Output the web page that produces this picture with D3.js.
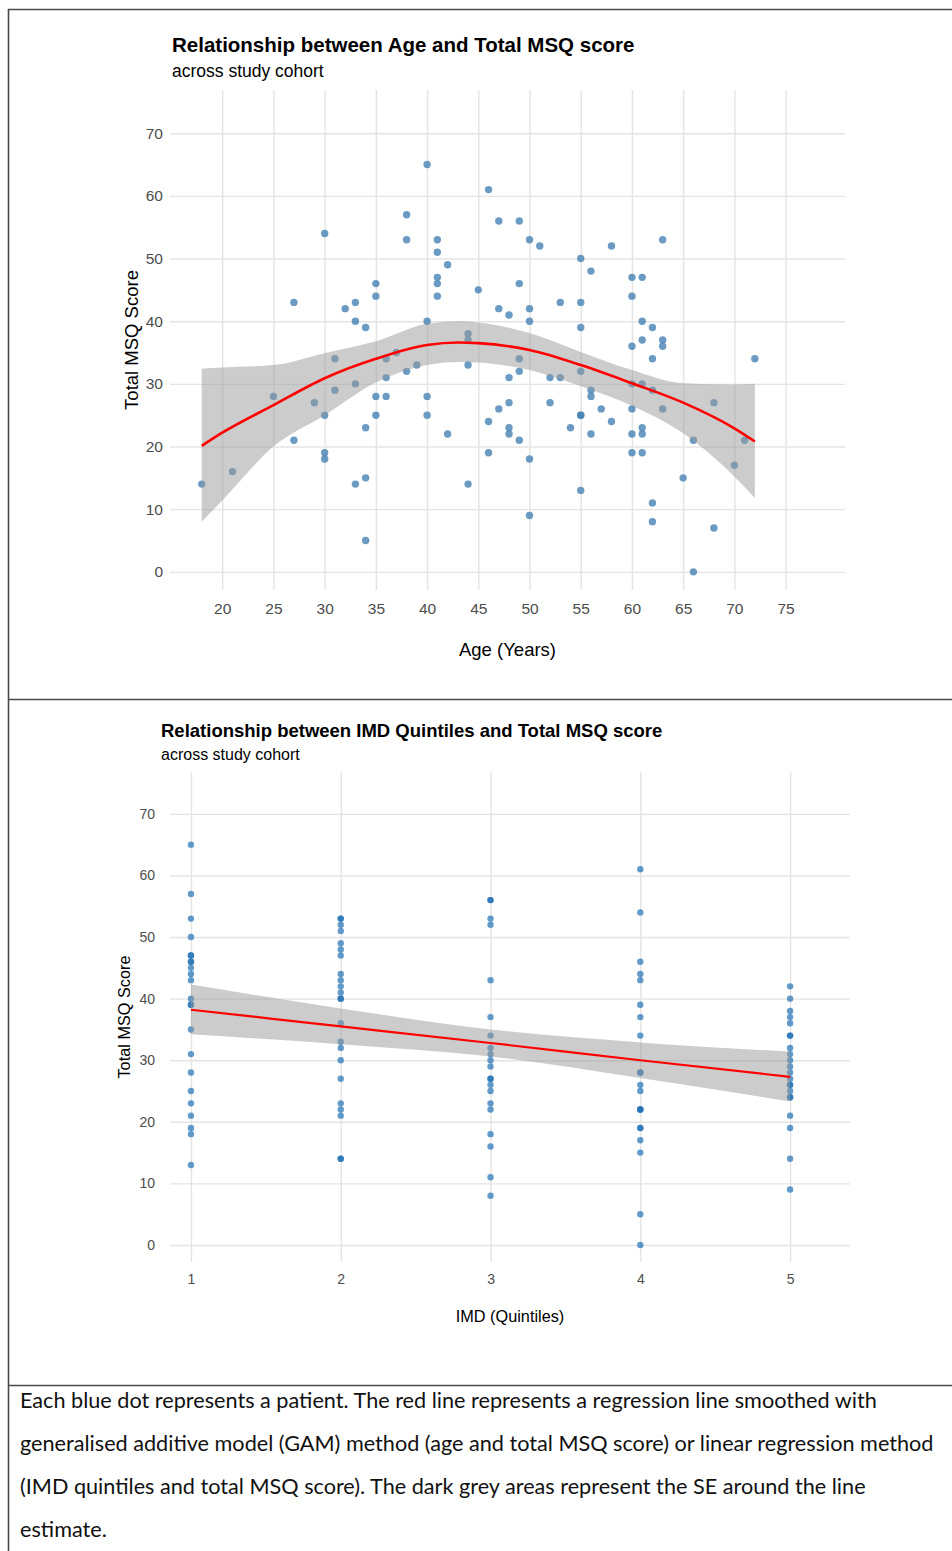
<!DOCTYPE html>
<html>
<head>
<meta charset="utf-8">
<script src="https://cdn.jsdelivr.net/npm/d3@7"></script>
<style>
  body { margin: 0; background: #fff; }
  svg { display: block; }
</style>
</head>
<body>
<svg id="fig" width="952" height="1551"></svg>
<script>
// ---- data ----
// age panel: one entry per patient
const ageYears = [18,21,25,27,27,29,30,30,30,30,31,31,32,33,33,33,33,34,34,34,34,35,35,35,35,36,36,36,37,38,38,38,39,
  40,40,40,40,41,41,41,41,41,42,42,44,44,44,44,45,46,46,46,47,47,47,48,48,48,48,48,49,49,49,49,49,
  50,50,50,50,50,51,52,52,53,53,54,55,55,55,55,55,55,55,56,56,56,56,57,58,58,
  60,60,60,60,60,60,60,61,61,61,61,61,61,61,62,62,62,62,62,63,63,63,63,65,66,66,68,68,70,71,72];
const ageScores = [14,16,28,21,43,27,54,25,19,18,34,29,42,43,40,30,14,39,23,15,5,46,44,28,25,34,31,28,35,57,53,32,33,
  65,40,28,25,53,51,47,46,44,49,22,38,37,33,14,45,61,24,19,56,42,26,41,31,27,23,22,56,46,34,32,21,
  53,42,40,18,9,52,31,27,43,31,23,50,43,39,32,25,25,13,48,29,28,22,26,52,24,
  47,44,36,30,26,22,19,47,40,37,30,23,22,19,39,34,29,11,8,53,37,36,26,15,21,0,27,7,17,21,34];

// GAM smooth and its SE band (age panel)
const ageFitX  = [18, 20, 25, 30, 35, 40, 43, 45, 50, 55, 60, 65, 70, 72];
const ageFit   = [20.1, 22.2, 26.6, 30.9, 34.0, 36.2, 36.6, 36.5, 35.4, 33.0, 30.1, 27.0, 22.9, 20.8];
const ageFitHi = [32.4, 32.6, 33.0, 34.9, 36.8, 39.6, 40.0, 39.8, 38.1, 35.1, 32.2, 30.1, 29.9, 30.0];
const ageFitLo = [8.0, 11.4, 20.0, 25.0, 30.2, 33.0, 33.5, 33.4, 32.2, 29.6, 26.5, 22.1, 15.2, 11.8];

// IMD panel: scores of the patients in each quintile
const imdQ1 = [65,57,53,50,47,47,46,46,45,44,43,40,39,39,35,31,28,25,23,21,19,18,13];
const imdQ2 = [53,53,52,51,49,48,47,44,43,42,41,40,40,36,33,32,30,27,23,22,21,14,14];
const imdQ3 = [56,56,53,52,43,37,34,32,31,30,29,27,27,26,25,23,22,18,16,11,8];
const imdQ4 = [61,54,46,44,43,39,37,34,28,28,26,25,22,22,22,19,19,17,15,5,0];
const imdQ5 = [42,40,38,37,36,34,34,32,31,30,29,28,27,26,26,25,24,24,21,19,14,9];

// linear fit and its SE band (IMD panel)
const imdFitX  = [1, 2, 3, 4, 5];
const imdFit   = [38.2, 35.5, 32.8, 30.0, 27.3];
const imdFitHi = [42.3, 38.4, 35.0, 32.9, 31.4];
const imdFitLo = [34.2, 32.6, 30.6, 27.1, 23.3];

const ageTicks = [20, 25, 30, 35, 40, 45, 50, 55, 60, 65, 70, 75];
const imdTicks = [1, 2, 3, 4, 5];
const scoreTicks = [0, 10, 20, 30, 40, 50, 60, 70];

const captionLines = [
  "Each blue dot represents a patient. The red line represents a regression line smoothed with",
  "generalised additive model (GAM) method (age and total MSQ score) or linear regression method",
  "(IMD quintiles and total MSQ score). The dark grey areas represent the SE around the line",
  "estimate."
];

const imdGroups = [imdQ1, imdQ2, imdQ3, imdQ4, imdQ5];
const imdX = imdGroups.flatMap((arr, i) => arr.map(() => imdTicks[i]));
const imdY = imdGroups.flat();

const svg = d3.select("#fig");
const font = "'Liberation Sans', Arial, Helvetica, sans-serif";

function drawPanel(cfg) {
  const g = svg.append("g");
  const x = d3.scaleLinear().domain(cfg.xDomain).range([cfg.left, cfg.right]);
  const y = d3.scaleLinear().domain(cfg.yDomain).range([cfg.bottom, cfg.top]);

  // gridlines + tick labels
  const xAxis = g.append("g")
      .attr("transform", `translate(0,${cfg.bottom})`)
      .call(d3.axisBottom(x).tickValues(cfg.xTicks).tickFormat(d3.format("d"))
        .tickSize(-(cfg.bottom - cfg.top)).tickPadding(cfg.xPad));
  const yAxis = g.append("g")
      .attr("transform", `translate(${cfg.left},0)`)
      .call(d3.axisLeft(y).tickValues(scoreTicks).tickFormat(d3.format("d"))
        .tickSize(-(cfg.right - cfg.left)).tickPadding(cfg.yPad));
  [xAxis, yAxis].forEach(a => {
    a.select(".domain").remove();
    a.selectAll("line").attr("stroke", "#e4e4e4").attr("stroke-width", 1.4);
    a.selectAll("text").attr("fill", "#4d4d4d")
      .style("font-family", font).style("font-size", cfg.tickSize + "px");
  });

  // points
  g.append("g").selectAll("circle")
    .data(cfg.xs.map((v, i) => [v, cfg.ys[i]]))
    .join("circle")
      .attr("cx", d => x(d[0]))
      .attr("cy", d => y(d[1]))
      .attr("r", cfg.r)
      .attr("fill", cfg.pointColor)
      .attr("fill-opacity", cfg.pointAlpha);

  // smooth with SE band
  const fit = cfg.fitX.map((v, i) => ({x: v, y: cfg.fit[i], lo: cfg.lo[i], hi: cfg.hi[i]}));
  g.append("path")
    .datum(fit)
    .attr("fill", "#999999")
    .attr("fill-opacity", 0.5)
    .attr("d", d3.area().x(d => x(d.x)).y0(d => y(d.lo)).y1(d => y(d.hi)).curve(d3.curveMonotoneX));
  g.append("path")
    .datum(fit)
    .attr("fill", "none")
    .attr("stroke", "#ff0000")
    .attr("stroke-width", cfg.lineWidth)
    .attr("d", d3.line().x(d => x(d.x)).y(d => y(d.y)).curve(d3.curveMonotoneX));

  // titles
  g.append("text")
    .attr("x", cfg.titleX).attr("y", cfg.titleY)
    .style("font-family", font).style("font-weight", "bold").style("font-size", cfg.titleSize + "px")
    .text(cfg.title);
  g.append("text")
    .attr("x", cfg.titleX).attr("y", cfg.subY)
    .style("font-family", font).style("font-size", cfg.subSize + "px")
    .text("across study cohort");
  g.append("text")
    .attr("x", (cfg.left + cfg.right) / 2).attr("y", cfg.xTitleY)
    .attr("text-anchor", "middle")
    .style("font-family", font).style("font-size", cfg.axisTitleSize + "px")
    .text(cfg.xTitle);
  g.append("text")
    .attr("transform", `translate(${cfg.yTitleX},${(cfg.top + cfg.bottom) / 2}) rotate(-90)`)
    .attr("text-anchor", "middle")
    .style("font-family", font).style("font-size", cfg.axisTitleSize + "px")
    .text("Total MSQ Score");
}

drawPanel({
  xDomain: [14.9, 80.8], yDomain: [-2.9, 76.9],
  left: 170, right: 845, top: 90, bottom: 590,
  xTicks: ageTicks, xPad: 13, yPad: 7, tickSize: 15.5,
  xs: ageYears, ys: ageScores, r: 3.7, pointColor: "#4682b4", pointAlpha: 0.8,
  fitX: ageFitX, fit: ageFit, lo: ageFitLo, hi: ageFitHi, lineWidth: 2.6,
  title: "Relationship between Age and Total MSQ score", titleX: 172, titleY: 52, titleSize: 20.5,
  subY: 77, subSize: 17.5,
  xTitle: "Age (Years)", xTitleY: 656, yTitleX: 138, axisTitleSize: 18.5
});

drawPanel({
  xDomain: [0.86, 5.40], yDomain: [-2.76, 76.8],
  left: 170, right: 850, top: 772, bottom: 1262,
  xTicks: imdTicks, xPad: 12, yPad: 15, tickSize: 14,
  xs: imdX, ys: imdY, r: 3.2, pointColor: "#2171b5", pointAlpha: 0.7,
  fitX: imdFitX, fit: imdFit, lo: imdFitLo, hi: imdFitHi, lineWidth: 2.2,
  title: "Relationship between IMD Quintiles and Total MSQ score", titleX: 161, titleY: 737, titleSize: 18.5,
  subY: 760, subSize: 16,
  xTitle: "IMD (Quintiles)", xTitleY: 1322, yTitleX: 130, axisTitleSize: 16.3
});

// frame of the figure table
const frame = svg.append("g").attr("stroke", "#4a4a4a").attr("stroke-width", 1.6);
[9.5, 699.5, 1385.5].forEach(yy => frame.append("line").attr("x1", 8).attr("x2", 952).attr("y1", yy).attr("y2", yy));
frame.append("line").attr("x1", 8.5).attr("x2", 8.5).attr("y1", 9).attr("y2", 1551);

// caption, sized so the second line spans the cell width
const cap = svg.append("g").style("font-family", "Lato, 'Open Sans', sans-serif").style("font-size", "20px");
const capText = cap.selectAll("text").data(captionLines).join("text")
  .attr("x", 20)
  .attr("y", (d, i) => 1408 + i * 43)
  .attr("fill", "#111")
  .text(d => d);
const w2 = capText.nodes()[1].getComputedTextLength();
cap.style("font-size", (20 * 914 / w2) + "px");
</script>
</body>
</html>
